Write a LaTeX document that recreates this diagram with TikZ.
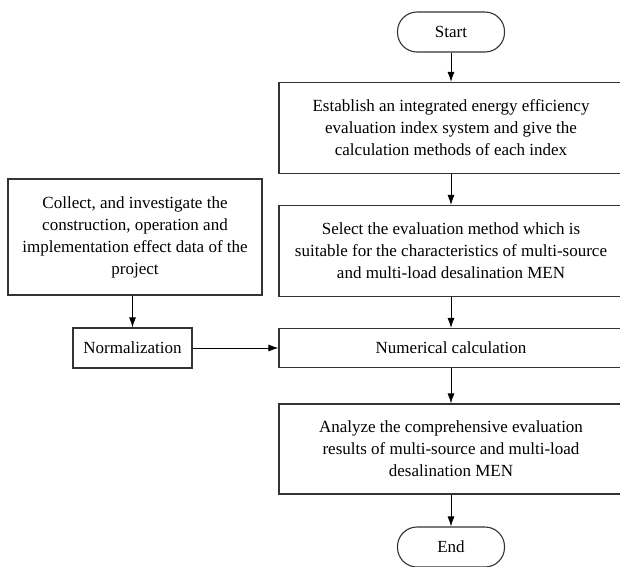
\documentclass[tikz,border=0pt]{standalone}
\usepackage{fontspec}
\setmainfont{Liberation Serif}
\usetikzlibrary{arrows.meta}
\begin{document}
\begin{tikzpicture}[x=1pt,y=-1pt,
  box/.style={draw=black!80, line width=1.1pt, align=center, inner sep=0pt, font=\fontsize{17}{22}\selectfont},
  term/.style={box, rounded corners=19.5pt, minimum width=107pt, minimum height=40pt},
  arr/.style={-{Latex[length=10pt,width=7pt]}, line width=0.9pt}]
\useasboundingbox (0,0) rectangle (620,566);
\clip (0,0) rectangle (620,566);
\node[term] (start) at (451,32) {Start};
\node[box, minimum width=344pt, minimum height=91pt] (b1) at (451,128)
  {Establish an integrated energy efficiency\\evaluation index system and give the\\calculation methods of each index};
\node[box, minimum width=344pt, minimum height=91pt] (b2) at (451,251)
  {Select the evaluation method which is\\suitable for the characteristics of multi-source\\and multi-load desalination MEN};
\node[box, minimum width=344pt, minimum height=39pt] (b3) at (451,348)
  {Numerical calculation};
\node[box, minimum width=344pt, minimum height=90pt] (b4) at (451,449)
  {Analyze the comprehensive evaluation\\results of multi-source and multi-load\\desalination MEN};
\node[term] (end) at (451,547) {End};
\node[box, minimum width=254pt, minimum height=116pt] (col) at (135,237)
  {Collect, and investigate the\\construction, operation and\\implementation effect data of the\\project};
\node[box, minimum width=119pt, minimum height=40pt] (norm) at (132.5,348) {Normalization};
\draw[arr] (start) -- (b1);
\draw[arr] (b1) -- (b2);
\draw[arr] (b2) -- (b3);
\draw[arr] (b3) -- (b4);
\draw[arr] (b4) -- (end);
\draw[arr] (col.south -| norm.north) -- (norm.north);
\draw[arr] (norm.east) -- (b3.west |- norm.east);
\end{tikzpicture}
\end{document}
